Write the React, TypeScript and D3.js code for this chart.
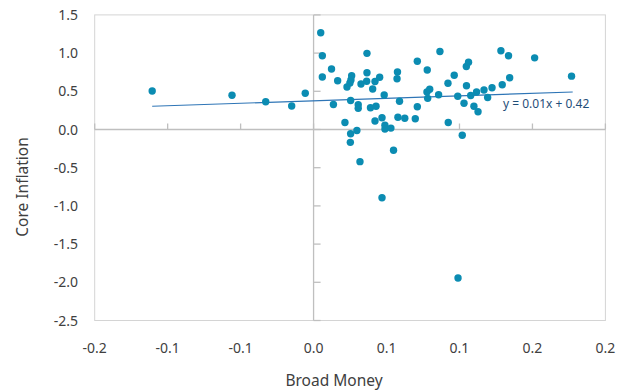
import React from "react";
import * as d3 from "d3";

const broadMoney = [
  0.0049, 0.006, 0.006, -0.0057, 0.0123, 0.0165, 0.0136, 0.0215, 0.0254, 0.0297,
  0.0254, 0.0229, 0.0249, 0.0256, 0.0261, 0.0325, 0.0364, 0.0366, 0.0366, 0.0405,
  0.0421, 0.0453, 0.0484, 0.0306, 0.0306, 0.039, 0.0428, 0.0421, 0.0469, 0.0489,
  0.0489, 0.053, 0.0575, 0.0572, 0.0589, 0.0578, 0.0625, 0.0697, 0.0711, 0.0711,
  0.0779, 0.0777, 0.0796, 0.0782, 0.0857, 0.0866, 0.0921, 0.0964, 0.0923, 0.0988,
  0.1019, 0.1031, 0.1048, 0.1047, 0.1062, 0.1077, 0.1099, 0.1127, 0.1117, 0.1168,
  0.1193, 0.1223, 0.1293, 0.1344, 0.1284, 0.1336, 0.1515, 0.1768, -0.1106, -0.0559,
  -0.0328, -0.015, 0.0252, 0.0318, 0.0548, 0.0469, 0.099,
];
const coreInflation = [
  1.267, 0.966, 0.687, 0.474, 0.792, 0.639, 0.327, 0.092, -0.056, -0.013,
  0.38, 0.556, 0.609, 0.648, 0.704, 0.596, 0.631, 0.743, 0.997, 0.53,
  0.628, 0.683, 0.452, 0.325, 0.277, 0.285, 0.305, 0.111, 0.154, 0.055,
  0.005, 0.018, 0.753, 0.665, 0.369, 0.16, 0.148, 0.14, 0.297, 0.893,
  0.779, 0.491, 0.527, 0.408, 0.454, 1.021, 0.605, 0.711, 0.092, 0.435,
  -0.075, 0.343, 0.573, 0.825, 0.881, 0.445, 0.305, 0.233, 0.491, 0.517,
  0.419, 0.547, 0.586, 0.678, 1.031, 0.966, 0.938, 0.698, 0.504, 0.448,
  0.364, 0.308, -0.168, -0.421, -0.272, -0.893, -1.944,
];
const trendX = [-0.1106, 0.1776];
const trendY = [0.304, 0.491];
const trendLabel = "y = 0.01x + 0.42";

const xTicks = [-0.15, -0.1, -0.05, 0, 0.05, 0.1, 0.15, 0.2];
const xTickLabels = ["-0.2", "-0.1", "-0.1", "0.0", "0.1", "0.1", "0.2", "0.2"];
const yTicks = [1.5, 1.0, 0.5, 0.0, -0.5, -1.0, -1.5, -2.0, -2.5];
const yTickLabels = ["1.5", "1.0", "0.5", "0.0", "-0.5", "-1.0", "-1.5", "-2.0", "-2.5"];

const W = 617;
const H = 392;
const left = 94.7;
const right = 605.4;
const top = 14.9;
const bottom = 320.5;
const FONT = "'Noto Sans', 'Open Sans', sans-serif";
const TEXT = "#404040";
const DOT = "#0b8cb2";

export default function App() {
  const x = d3.scaleLinear().domain([-0.15, 0.2]).range([left, right]);
  const y = d3.scaleLinear().domain([-2.5, 1.5]).range([bottom, top]);
  const x0 = x(0);
  const y0 = y(0);
  const trendPath = d3
    .line<number>()
    .x((d, i) => x(trendX[i]))
    .y((d) => y(d))(trendY) as string;

  return (
    <svg
      width={W}
      height={H}
      style={{ position: "fixed", left: 0, top: 0, background: "#fff" }}
    >
      <rect width={W} height={H} fill="#fff" />
      <rect
        x={left}
        y={top}
        width={right - left}
        height={bottom - top}
        fill="none"
        stroke="#d4d4d4"
        strokeWidth={1}
      />
      <line x1={left} x2={right} y1={y0} y2={y0} stroke="#bfbfbf" strokeWidth={1.3} />
      <line x1={x0} x2={x0} y1={top} y2={bottom} stroke="#bfbfbf" strokeWidth={1.3} />
      {xTicks.map((t, i) => (
        <line key={"xt" + i} x1={x(t)} x2={x(t)} y1={y0} y2={y0 - 6} stroke="#bfbfbf" strokeWidth={1.3} />
      ))}
      {yTicks.map((t, i) => (
        <line key={"yt" + i} x1={x0} x2={x0 + 7} y1={y(t)} y2={y(t)} stroke="#bfbfbf" strokeWidth={1.3} />
      ))}
      {xTicks.map((t, i) => (
        <text
          key={"xl" + i}
          x={x(t)}
          y={353}
          textAnchor="middle"
          fontFamily={FONT}
          fontSize={14}
          fill={TEXT}
        >
          {xTickLabels[i]}
        </text>
      ))}
      {yTicks.map((t, i) => (
        <text
          key={"yl" + i}
          x={78}
          y={y(t) + 5}
          textAnchor="end"
          fontFamily={FONT}
          fontSize={14}
          fill={TEXT}
        >
          {yTickLabels[i]}
        </text>
      ))}
      <text
        transform={`translate(28,187) rotate(-90)`}
        textAnchor="middle"
        fontFamily={FONT}
        fontSize={15.5}
        fill={TEXT}
      >
        Core Inflation
      </text>
      <text x={334} y={386} textAnchor="middle" fontFamily={FONT} fontSize={15.5} fill={TEXT}>
        Broad Money
      </text>
      <path d={trendPath} fill="none" stroke="#2e75b6" strokeWidth={1.2} />
      {broadMoney.map((bx, i) => (
        <circle key={"p" + i} cx={x(bx)} cy={y(coreInflation[i])} r={3.7} fill={DOT} />
      ))}
      <text x={503} y={108} fontFamily={FONT} fontSize={12} fill="#1f4e79">
        {trendLabel}
      </text>
    </svg>
  );
}
